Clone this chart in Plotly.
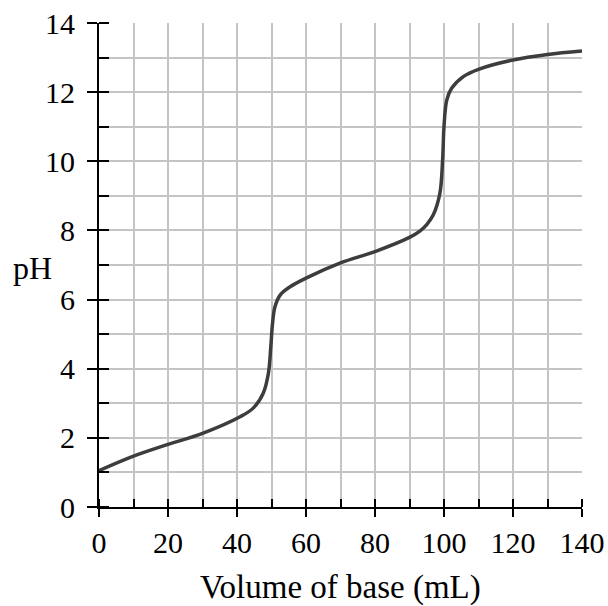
import plotly.graph_objects as go

volume_ml = [0, 10, 20, 30, 40.9, 44.7, 47.6, 49.1, 49.8, 50.3, 51, 52.5, 55.4, 60, 70, 80, 90, 93, 95, 96.9,
             98.8, 99.6, 100, 100.8, 102.2, 105.6, 110, 120, 130, 140]
ph_values = [1.05, 1.47, 1.81, 2.13, 2.61, 2.86, 3.29, 3.87, 4.64, 5.31, 5.79, 6.13, 6.37, 6.62, 7.06, 7.39, 7.8, 7.98, 8.17, 8.45,
             9.07, 10.04, 11.0, 11.77, 12.11, 12.45, 12.66, 12.93, 13.09, 13.19]

x_tick_vals = [0, 20, 40, 60, 80, 100, 120, 140]
y_tick_vals = [0, 2, 4, 6, 8, 10, 12, 14]

FONT = "Liberation Serif"
GRID = "#c4c4c4"
TICKFONT = dict(family=FONT, size=30, color="black")

fig = go.Figure()
fig.add_trace(go.Scatter(x=volume_ml, y=ph_values, mode="lines",
                         line=dict(color="#3d3d3d", width=3.5, shape="spline", smoothing=1.0),
                         hoverinfo="skip", showlegend=False))
fig.add_trace(go.Scatter(x=[], y=[], xaxis="x2", yaxis="y2", showlegend=False, hoverinfo="skip"))

fig.update_layout(
    width=608, height=606,
    margin=dict(l=99, r=26, t=23, b=99),
    paper_bgcolor="white", plot_bgcolor="white",
    font=dict(family=FONT, size=30, color="black"),
    xaxis=dict(range=[0, 140], tickvals=x_tick_vals, ticks="outside", ticklen=8, tickwidth=2, tickcolor="black",
               showline=True, linecolor="black", linewidth=2, showgrid=True, gridcolor=GRID, gridwidth=1.6,
               zeroline=False, ticklabelstandoff=0, automargin=False, tickfont=TICKFONT,
               minor=dict(dtick=10, ticks="inside", ticklen=8, tickwidth=2, tickcolor="black",
                          showgrid=True, gridcolor=GRID, gridwidth=1.6)),
    yaxis=dict(range=[0, 14], tickvals=y_tick_vals, ticks="outside", ticklen=10, tickwidth=2, tickcolor="black",
               showline=True, linecolor="black", linewidth=2, showgrid=True, gridcolor=GRID, gridwidth=1.6,
               zeroline=False, ticklabelstandoff=6, automargin=False, tickfont=TICKFONT,
               minor=dict(dtick=1, ticks="inside", ticklen=10, tickwidth=2, tickcolor="black",
                          showgrid=True, gridcolor=GRID, gridwidth=1.6)),
    xaxis2=dict(range=[0, 140], overlaying="x", anchor="y", side="bottom", tickvals=x_tick_vals, ticks="inside",
                ticklen=8, tickwidth=2, tickcolor="black", showticklabels=False, showgrid=False,
                showline=False, zeroline=False, automargin=False),
    yaxis2=dict(range=[0, 14], overlaying="y", anchor="x", side="left", tickvals=y_tick_vals, ticks="inside",
                ticklen=10, tickwidth=2, tickcolor="black", showticklabels=False, showgrid=False,
                showline=False, zeroline=False, automargin=False),
    annotations=[
        dict(text="Volume of base (mL)", xref="paper", yref="paper", x=0.5, y=0, xanchor="center",
             yanchor="top", yshift=-60, showarrow=False, font=dict(family=FONT, size=33)),
        dict(text="pH", xref="paper", yref="y", x=0, y=6.9, xanchor="right", yanchor="middle",
             xshift=-45, showarrow=False, font=dict(family=FONT, size=32)),
    ],
)

fig.write_html("out.html", config={"displayModeBar": False},
               post_script="document.body.style.margin='0';document.body.style.overflow='hidden';")
